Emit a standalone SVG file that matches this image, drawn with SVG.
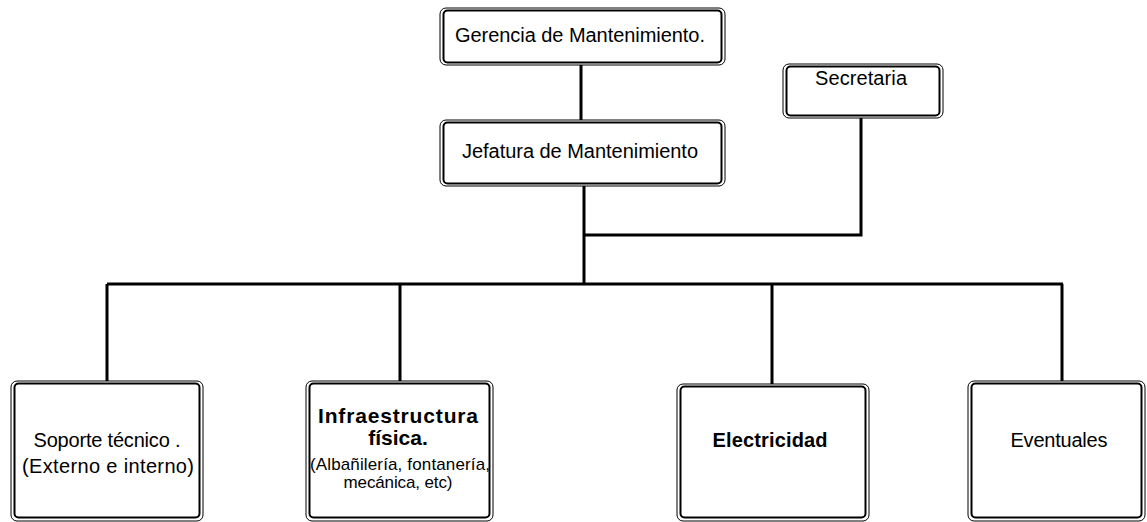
<svg xmlns="http://www.w3.org/2000/svg" width="1147" height="522" viewBox="0 0 1147 522">
<style>
.o{fill:#fff;stroke:#000;stroke-width:1}
.i{fill:none;stroke:#000;stroke-width:2}
.t{font-family:"Liberation Sans",Arial,sans-serif;font-size:20px;fill:#000;text-anchor:middle}
.b{font-weight:bold}
.s{font-size:17px}
.c{fill:none;stroke:#000;stroke-width:3}
</style>
<rect width="1147" height="522" fill="#fff"/>
<g id="connectors">
<path class="c" d="M581 65V121"/>
<path class="c" d="M584 185V284"/>
<path class="c" d="M584 235H861V117"/>
<path class="c" d="M107 284H1063"/>
<path class="c" d="M107 284V382M400 284V382M772 284V385M1062 284V382"/>
</g>
<g id="gerencia">
<rect class="o" x="440" y="8" width="285" height="57" rx="6"/>
<rect class="i" x="443.5" y="10.5" width="278" height="52" rx="4"/>
<text class="t" x="580" y="42" textLength="250" lengthAdjust="spacing">Gerencia de Mantenimiento.</text>
</g>
<g id="jefatura">
<rect class="o" x="440" y="120" width="285" height="66" rx="6"/>
<rect class="i" x="443.5" y="122.5" width="278" height="61" rx="4"/>
<text class="t" x="580" y="158" textLength="236" lengthAdjust="spacing">Jefatura de Mantenimiento</text>
</g>
<g id="secretaria">
<rect class="o" x="783" y="64" width="160" height="54" rx="6"/>
<rect class="i" x="786.5" y="66.5" width="153" height="49" rx="4"/>
<text class="t" x="861" y="85" textLength="92" lengthAdjust="spacing">Secretaria</text>
</g>
<g id="soporte">
<rect class="o" x="11" y="381" width="192" height="140" rx="6"/>
<rect class="i" x="14.5" y="383.5" width="185" height="134" rx="4"/>
<text class="t" x="107" y="447" textLength="147" lengthAdjust="spacing">Soporte técnico .</text>
<text class="t" x="108" y="473" textLength="172" lengthAdjust="spacing">(Externo e interno)</text>
</g>
<g id="infraestructura">
<rect class="o" x="306" y="381" width="187" height="140" rx="6"/>
<rect class="i" x="309.5" y="383.5" width="180" height="134" rx="4"/>
<text class="t b" x="398" y="423" style="font-size:21px" textLength="160" lengthAdjust="spacing">Infraestructura</text>
<text class="t b" x="398" y="445" style="font-size:21px">física.</text>
<text class="t s" x="400" y="470" textLength="180" lengthAdjust="spacing">(Albañilería, fontanería,</text>
<text class="t s" x="398" y="488" textLength="109" lengthAdjust="spacing">mecánica, etc)</text>
</g>
<g id="electricidad">
<rect class="o" x="677" y="384" width="192" height="137" rx="6"/>
<rect class="i" x="680.5" y="386.5" width="185" height="131" rx="4"/>
<text class="t b" x="770" y="447" textLength="115" lengthAdjust="spacing">Electricidad</text>
</g>
<g id="eventuales">
<rect class="o" x="968" y="381" width="177" height="140" rx="6"/>
<rect class="i" x="971.5" y="383.5" width="170" height="134" rx="4"/>
<text class="t" x="1059" y="447" textLength="97" lengthAdjust="spacing">Eventuales</text>
</g>
</svg>
